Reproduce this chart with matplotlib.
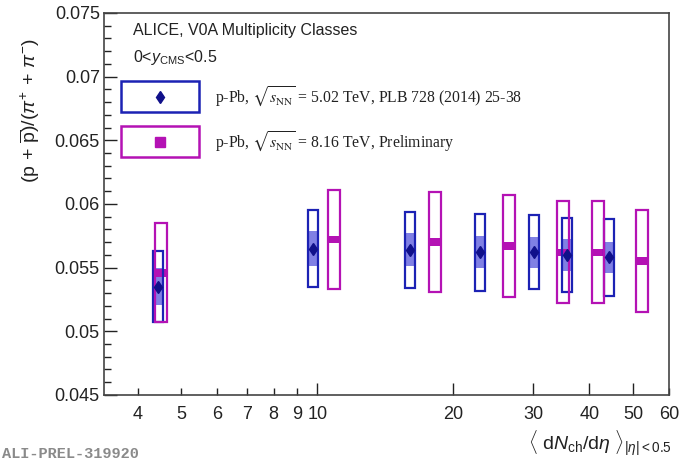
import matplotlib
matplotlib.use("Agg")
import matplotlib.pyplot as plt
from matplotlib.patches import Rectangle
from matplotlib.ticker import FixedLocator, MultipleLocator, NullLocator

# p-Pb 5.02 TeV (PLB 728)
x502 = [4.43, 9.77, 16.0, 22.9, 30.1, 35.7, 44.2]
y502 = [0.0535, 0.0565, 0.0564, 0.0562, 0.0562, 0.0560, 0.0558]
syst502 = [0.0028, 0.0030, 0.0030, 0.0030, 0.0029, 0.0029, 0.0030]
uncor502 = [0.00145, 0.00135, 0.0013, 0.00125, 0.0012, 0.00125, 0.00125]

# p-Pb 8.16 TeV (preliminary)
x816 = [4.5, 10.9, 18.2, 26.5, 34.9, 41.7, 52.3]
y816 = [0.0546, 0.0572, 0.0570, 0.0567, 0.0562, 0.0562, 0.0555]
syst816 = [0.0039, 0.0039, 0.0039, 0.0040, 0.0040, 0.0040, 0.0040]
uncor816 = [0.0003, 0.0003, 0.0003, 0.0003, 0.0003, 0.0003, 0.0003]

xticks = [4, 5, 6, 7, 8, 9, 10, 20, 30, 40, 50, 60]
xticklabels = ["4", "5", "6", "7", "8", "9", "10", "20", "30", "40", "50", "60"]
yticks = [0.045, 0.05, 0.055, 0.06, 0.065, 0.07, 0.075]
yticklabels = ["0.045", "0.05", "0.055", "0.06", "0.065", "0.07", "0.075"]

BLUE = "#1c22b4"
BLUE_FILL = "#6a6ae0"
MARKER_BLUE = "#10108a"
MAG = "#b412b4"

plt.rcParams["font.family"] = ["Liberation Sans", "DejaVu Sans"]
plt.rcParams["mathtext.fontset"] = "custom"
plt.rcParams["mathtext.rm"] = "Liberation Sans"
plt.rcParams["mathtext.it"] = "Liberation Sans:italic"
plt.rcParams["mathtext.bf"] = "Liberation Sans:bold"

fig = plt.figure(figsize=(6.82, 4.63), dpi=100)
ax = fig.add_axes([0.1525, 0.147, 0.8285, 0.825])


def boxes(ax, xs, ys, errs, hw, **kw):
    # rectangles with a fixed half-width in log space
    for x, y, e in zip(xs, ys, errs):
        x0 = x * 10 ** (-hw)
        x1 = x * 10 ** hw
        ax.add_patch(Rectangle((x0, y - e), x1 - x0, 2 * e, **kw))


# blue series
boxes(ax, x502, y502, uncor502, 0.011, facecolor=BLUE_FILL, edgecolor="none", alpha=0.85, zorder=2)
boxes(ax, x502, y502, syst502, 0.011, facecolor="none", edgecolor=BLUE, lw=1.6, zorder=3)
ax.plot(x502, y502, ls="none", marker="d", ms=6, color=MARKER_BLUE, zorder=4)

# magenta series
boxes(ax, x816, y816, uncor816, 0.013, facecolor=MAG, edgecolor="none", zorder=2)
boxes(ax, x816, y816, syst816, 0.013, facecolor="none", edgecolor=MAG, lw=1.6, zorder=3)

ax.set_xscale("log")
ax.set_xlim(3.37, 60)
ax.set_ylim(0.045, 0.075)

ax.xaxis.set_major_locator(FixedLocator(xticks))
ax.xaxis.set_minor_locator(NullLocator())
ax.set_xticklabels(xticklabels)
ax.yaxis.set_minor_locator(MultipleLocator(0.001))
ax.set_yticks(yticks)
ax.set_yticklabels(yticklabels)

ax.tick_params(axis="both", which="both", direction="in", top=False, right=False,
               labelsize=13, colors="#222222", width=1.0)
ax.tick_params(axis="y", which="major", length=9, pad=3)
ax.tick_params(axis="y", which="minor", length=5)
ax.tick_params(axis="x", which="major", length=5, pad=8)
for t in ax.xaxis.get_major_ticks():
    if t.get_loc() in (10, 20, 30, 40, 50):
        t.tick1line.set_markersize(9)
for s in ax.spines.values():
    s.set_color("#444444")
    s.set_linewidth(1.2)

ax.set_ylabel(r"$(\mathrm{p}\,+\,\overline{\mathrm{p}})/(\pi^{+}\,+\,\pi^{-})$", fontsize=14,
              color="#222222")
ax.yaxis.set_label_coords(-0.11, 0.745)
fig.text(0.985, 0.028,
         r"$\langle\ \mathrm{d}N_{\mathrm{ch}}/\mathrm{d}\eta\ \rangle_{|\eta|<0.5}$",
         fontsize=14, ha="right", va="baseline", color="#222222")

# header
ax.text(0.052, 0.975, "ALICE, V0A Multiplicity Classes", transform=ax.transAxes,
        fontsize=11.5, va="top", color="#222222")
ax.text(0.052, 0.907, r"0<$y_{\mathrm{CMS}}$<0.5", transform=ax.transAxes,
        fontsize=11.5, va="top", color="#222222")

# legend drawn by hand, ROOT style
leg_x0, leg_x1 = 121 / 682, 199 / 682
legend_rows = [
    (81, 112, BLUE, MARKER_BLUE, "d", 6, r"p-Pb, $\sqrt{s_{\mathrm{NN}}}$ = 5.02 TeV, PLB 728 (2014) 25-38"),
    (126, 157, MAG, MAG, "s", 7.5, r"p-Pb, $\sqrt{s_{\mathrm{NN}}}$ = 8.16 TeV, Preliminary"),
]
for ytop, ybot, col, mcol, mk, ms, label in legend_rows:
    y0 = 1 - ybot / 463
    y1 = 1 - ytop / 463
    fig.patches.append(Rectangle((leg_x0, y0), leg_x1 - leg_x0, y1 - y0, transform=fig.transFigure,
                                 facecolor="none", edgecolor=col, lw=1.8))
    ym = (y0 + y1) / 2
    fig.add_artist(plt.Line2D([(leg_x0 + leg_x1) / 2], [ym], transform=fig.transFigure,
                              marker=mk, ms=ms, color=mcol, ls="none"))
    t = fig.text(215 / 682, ym, label, fontsize=11.3, va="center", ha="left",
                 family=["Liberation Serif"], color="#222222")
    t.set_math_fontfamily("stix")

fig.text(0.003, 0.005, "ALI-PREL-319920", family=["Liberation Mono"], fontsize=11,
         fontweight="bold", color="#8a8a8a", va="bottom")

fig.savefig("out.png", dpi=100)
